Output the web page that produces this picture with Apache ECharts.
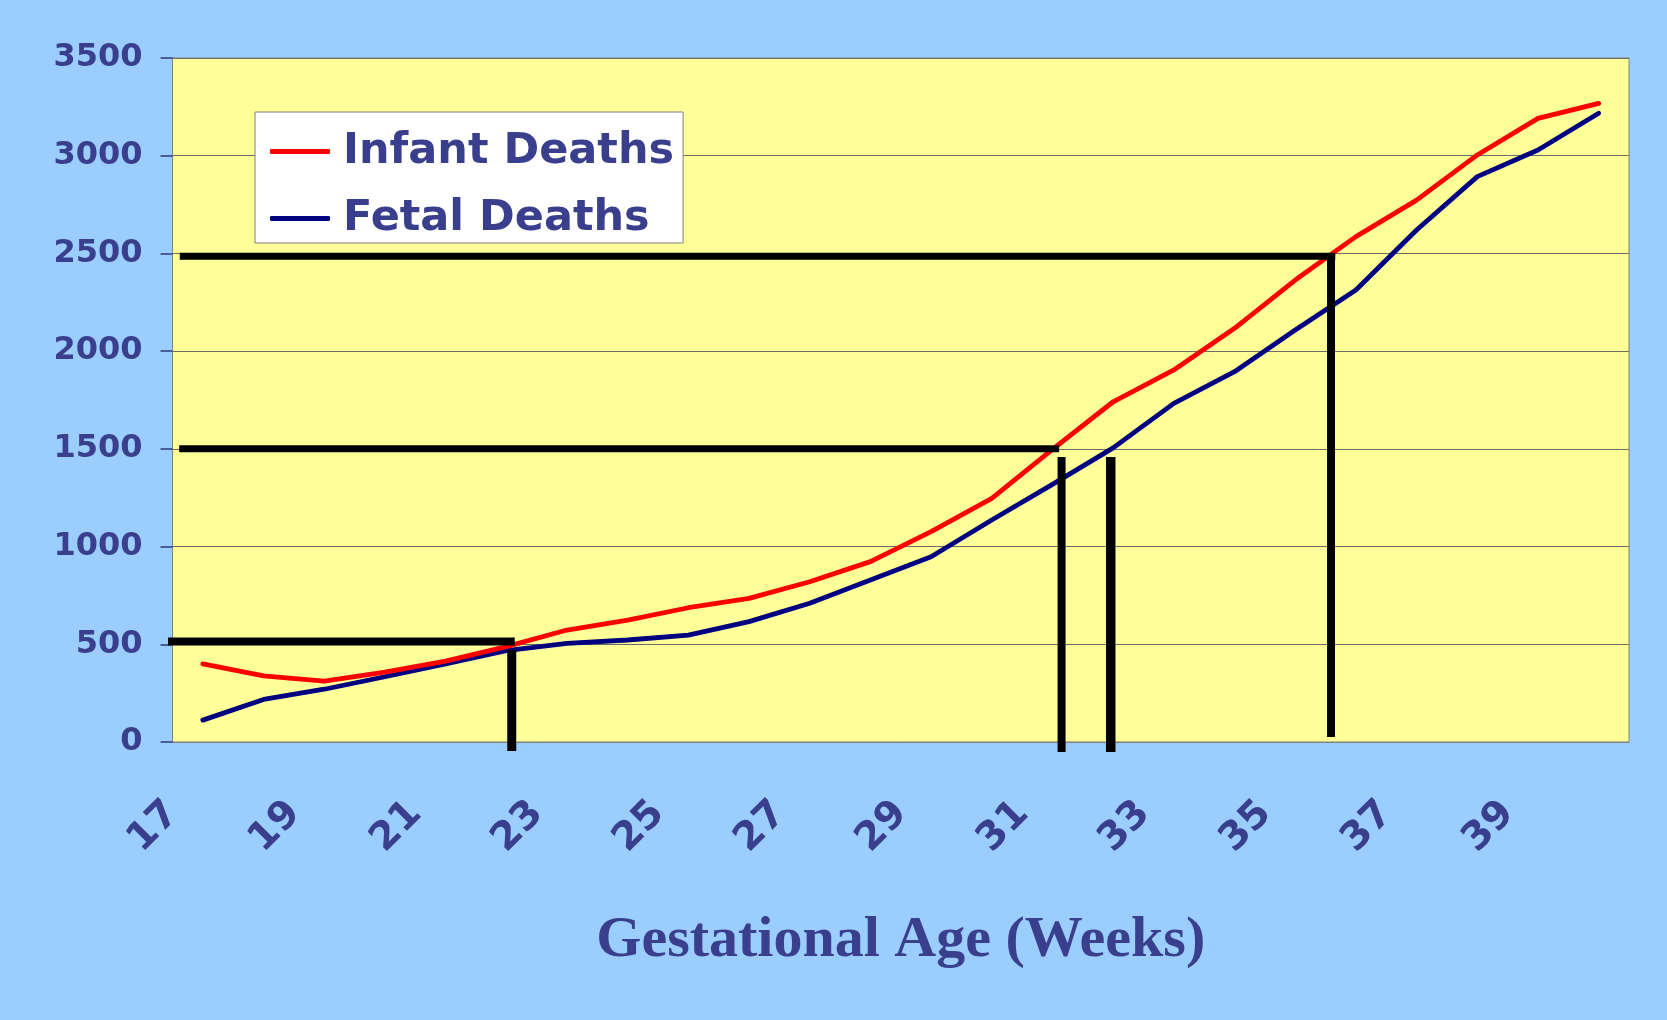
<!DOCTYPE html>
<html>
<head>
<meta charset="utf-8">
<title>Infant and Fetal Deaths by Gestational Age</title>
<script src="https://cdn.jsdelivr.net/npm/echarts@6/dist/echarts.min.js"></script>
<style>
  html, body { margin: 0; padding: 0; background: #9ccdff; }
  #chart { width: 1667px; height: 1020px; }
</style>
</head>
<body>
<div id="chart"></div>
<script>
// Gestational age categories (weeks)
const weeks = ['17','18','19','20','21','22','23','24','25','26','27','28',
               '29','30','31','32','33','34','35','36','37','38','39','40'];

// Series values per week
const infantDeaths = [400, 338, 312, 358, 414, 488, 573, 624, 687, 735, 820, 923,
                      1076, 1247, 1497, 1741, 1904, 2117, 2364, 2586, 2773, 3004, 3191, 3268];
const fetalDeaths  = [112, 218, 270, 334, 399, 467, 505, 522, 547, 616, 710, 829,
                      948, 1136, 1318, 1505, 1733, 1895, 2108, 2313, 2620, 2893, 3029, 3217];

// Value axis range
const yMin = 0;
const yMax = 3500;
const yStep = 500;

// Guide segments in (week, deaths) coordinates: [[x1, y1], [x2, y2]]
const guideSegments = [
  [[16.34, 514], [22.14, 514]],
  [[22.09, 471], [22.09, -46]],
  [[16.61, 1500], [31.11, 1500]],
  [[31.15, 1458], [31.15, -51]],
  [[31.96, 1458], [31.96, -51]],
  [[16.62, 2485], [35.66, 2485]],
  [[35.59, 2485], [35.59, 26]]
];
const guideWidths = [8, 9, 7, 8, 9.5, 7, 8];

const textColor = '#393f8c';
const tickColor = '#2e3b80';

const chart = echarts.init(document.getElementById('chart'), null, { renderer: 'canvas' });

const guideSeries = guideSegments.map((seg, i) => ({
  type: 'line',
  xAxisIndex: 1,
  data: seg,
  symbol: 'none',
  clip: false,
  silent: true,
  z: 5,
  lineStyle: { color: '#000000', width: guideWidths[i], cap: 'butt', join: 'miter' }
}));

chart.setOption({
  animation: false,
  backgroundColor: '#9ccdff',
  textStyle: { fontFamily: 'DejaVu Sans' },
  grid: {
    left: 172.5, right: 38, top: 58, bottom: 278,
    show: true,
    backgroundColor: '#ffff99',
    borderColor: '#808080',
    borderWidth: 1,
    outerBoundsMode: 'none'
  },
  legend: {
    orient: 'vertical',
    left: 255,
    top: 112,
    backgroundColor: '#ffffff',
    borderColor: '#808080',
    borderWidth: 1,
    padding: [15, 9, 0, 15],
    itemGap: 18,
    itemWidth: 60,
    itemHeight: 5,
    icon: 'roundRect',
    textStyle: {
      fontFamily: 'DejaVu Sans',
      fontWeight: 'bold',
      fontSize: 43,
      lineHeight: 49,
      color: textColor,
      padding: [0, 0, 0, 8]
    },
    data: ['Infant Deaths', 'Fetal Deaths']
  },
  xAxis: [
    {
      type: 'category',
      data: weeks,
      boundaryGap: true,
      axisLine: { lineStyle: { color: '#808080', width: 1 } },
      axisTick: { interval: 0, length: 16, lineStyle: { color: tickColor, width: 1.5 } },
      axisLabel: {
        interval: 1,
        rotate: 45,
        margin: 36,
        padding: [0, 42, 0, 0],
        fontFamily: 'DejaVu Sans',
        fontWeight: 'bold',
        fontSize: 39,
        color: textColor
      },
      splitLine: { show: false },
      name: 'Gestational Age (Weeks)',
      nameLocation: 'middle',
      nameGap: 170,
      nameTextStyle: {
        fontFamily: 'Liberation Serif',
        fontWeight: 'bold',
        fontSize: 58,
        color: textColor
      }
    },
    {
      type: 'value',
      min: 16.5,
      max: 40.5,
      show: false
    }
  ],
  yAxis: {
    type: 'value',
    min: yMin,
    max: yMax,
    interval: yStep,
    axisLine: { show: true, lineStyle: { color: '#808080', width: 1 } },
    axisTick: { show: true, length: 12, lineStyle: { color: tickColor, width: 1.5 } },
    axisLabel: {
      margin: 30,
      formatter: v => String(v),
      fontFamily: 'DejaVu Sans',
      fontWeight: 'bold',
      fontSize: 32,
      color: textColor
    },
    splitLine: { show: true, lineStyle: { color: '#6e6e66', width: 1.2 } }
  },
  series: [
    {
      name: 'Infant Deaths',
      type: 'line',
      data: infantDeaths,
      symbol: 'none',
      color: '#ff0000',
      z: 3,
      lineStyle: { color: '#ff0000', width: 4.8, cap: 'round', join: 'round' }
    },
    {
      name: 'Fetal Deaths',
      type: 'line',
      data: fetalDeaths,
      symbol: 'none',
      color: '#000080',
      z: 2,
      lineStyle: { color: '#000080', width: 4.8, cap: 'round', join: 'round' }
    }
  ].concat(guideSeries)
});
</script>
</body>
</html>
